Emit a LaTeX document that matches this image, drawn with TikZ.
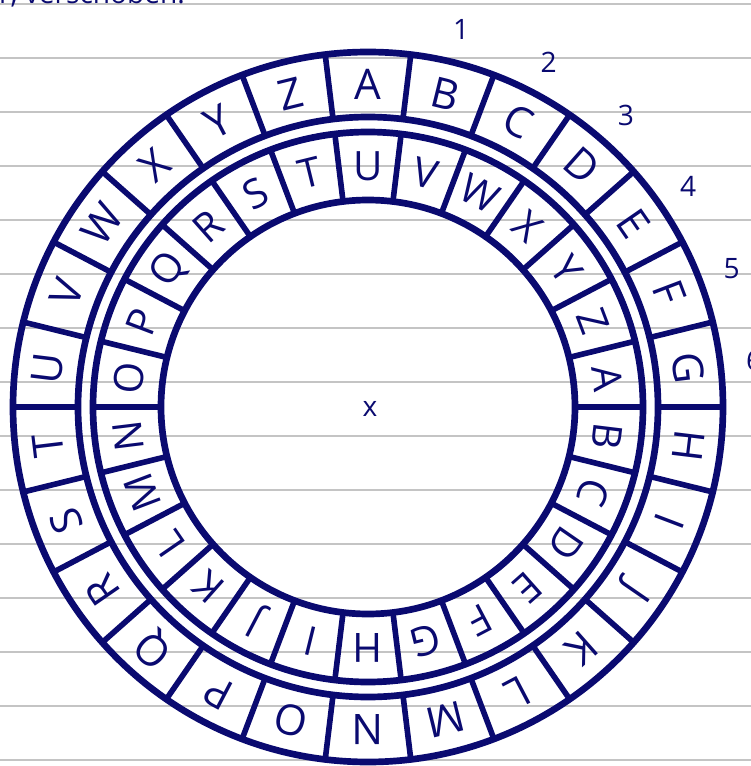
\documentclass[tikz,border=0pt]{standalone}
\usepackage{fontspec}
\setmainfont{Open Sans}
\usetikzlibrary{positioning}
\definecolor{ink}{RGB}{10,10,112}
\definecolor{paper}{RGB}{196,196,196}

\begin{document}
\begin{tikzpicture}[
    ring/.style={draw=ink, line width=3.8pt},
    sep/.style={draw=ink, line width=3.2pt, line cap=round},
    outl/.style={font=\fontsize{24}{24}\selectfont, text=ink, inner sep=0pt},
    inl/.style={font=\fontsize{23}{23}\selectfont, text=ink, inner sep=0pt},
    num/.style={font=\fontsize{16}{16}\selectfont, text=ink},
    rule/.style={draw=paper, line width=1.4pt}
  ]
    \useasboundingbox (-7.36,-7.18) rectangle (7.66,8.14);
    % lined paper
    \foreach \k in {0,...,14}
      \draw[rule] (-7.36,8.06-1.08*\k) -- (7.66,8.06-1.08*\k);
    \begin{scope}
      \clip (-7.36,-7.18) rectangle (7.66,8.14);
      \node[num, anchor=base west] (head) at (-7.5,8.08) {r, verschoben:};
    \end{scope}

    % the two rings
    \draw[ring] (0,0) circle (7.1);
    \draw[ring] (0,0) circle (5.8);
    \draw[ring] (0,0) circle (5.5);
    \draw[ring] (0,0) circle (4.14);
    \foreach \i in {0,...,25}{
      \draw[sep] (96.923-13.846*\i:5.8) -- (96.923-13.846*\i:7.1);
      \draw[sep] (96.923-13.846*\i:4.14) -- (96.923-13.846*\i:5.5);
    }

    \foreach \l [count=\i from 0] in {A,B,C,D,E,F,G,H,I,J,K,L,M,N,O,P,Q,R,S,T,U,V,W,X,Y,Z}
      \node[outl, rotate=-13.846*\i] (outer-\l) at (90-13.846*\i:6.45) {\l};
    \foreach \l [count=\i from 0] in {U,V,W,X,Y,Z,A,B,C,D,E,F,G,H,I,J,K,L,M,N,O,P,Q,R,S,T}
      \node[inl, rotate=-13.846*\i] (inner-\l) at (90-13.846*\i:4.82) {\l};

    % shift counter
    \foreach \n in {1,...,6}
      \node[num] (shift\n) at (90-13.846*\n:7.78) {\n};
    \node[num] (mid) at (0.04,-0.04) {x};
  \end{tikzpicture}
\end{document}
